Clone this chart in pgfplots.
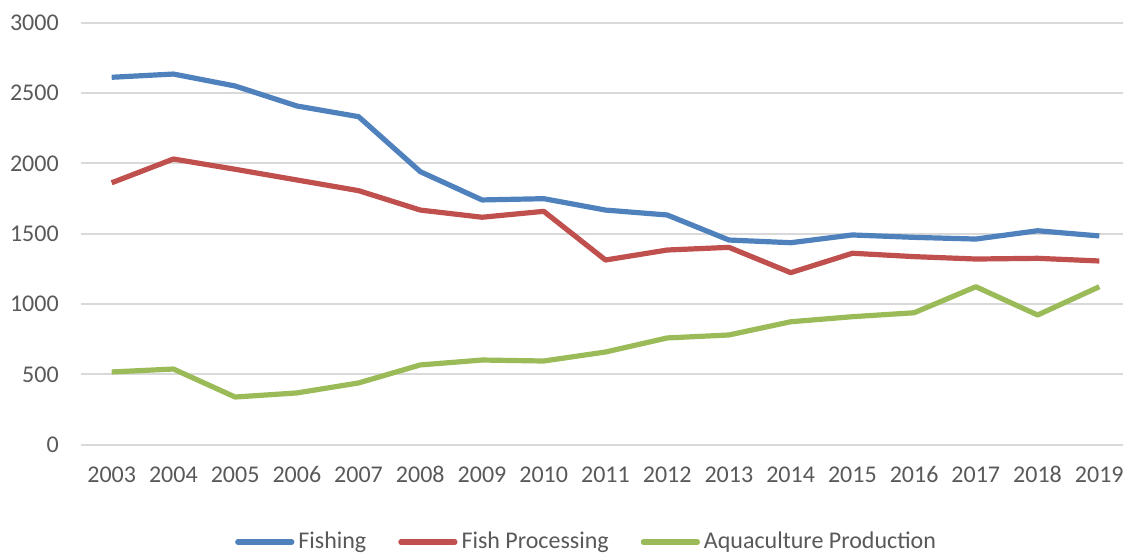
\documentclass[border=0pt]{standalone}
\usepackage{fontspec}
\setmainfont{Carlito}
\usepackage{pgfplots}
\pgfplotsset{compat=1.18}
\definecolor{cblue}{HTML}{4F81BD}
\definecolor{cred}{HTML}{C0504D}
\definecolor{cgreen}{HTML}{9BBB59}
\definecolor{cgrid}{HTML}{D9D9D9}
\definecolor{ctext}{HTML}{595959}
\begin{document}
\begin{tikzpicture}
\useasboundingbox (0,0) rectangle (561.5pt,276pt);
\begin{axis}[
  at={(40.4pt,53.65pt)}, anchor=south west,
  scale only axis, width=524.7pt, height=211pt,
  xmin=2002.5, xmax=2019.5, ymin=0, ymax=3000,
  axis line style={draw=none},
  major tick length=0pt,
  xtick={2003,...,2019},
  ytick={0,500,...,3000},
  ymajorgrids, grid style={cgrid, line width=1pt},
  /pgf/number format/1000 sep={},
  /pgf/number format/assume math mode=true,
  tick label style={font=\fontsize{12}{14}\selectfont, text=ctext},
  yticklabel style={xshift=-7.5pt},
  xticklabel style={yshift=-7.5pt, text height=8pt, text depth=0pt},
  legend columns=3,
  legend style={at={(0.4829,-0.2305)}, anchor=center, draw=none,
    font=\fontsize{12}{14}\selectfont, text=ctext,
    /tikz/every even column/.append style={column sep=14pt}},
  legend image code/.code={\draw[#1, line cap=round] (0pt,0pt) -- (27pt,0pt);},
  every axis plot/.append style={line width=2.6pt, line join=round},
  clip=false,
]
\addplot[cblue, mark=none] coordinates {
(2003,2612) (2004,2635) (2005,2550) (2006,2408) (2007,2332) (2008,1941)
(2009,1740) (2010,1749) (2011,1668) (2012,1633) (2013,1455) (2014,1436)
(2015,1491) (2016,1474) (2017,1462) (2018,1521) (2019,1484)};
\addlegendentry{Fishing}
\addplot[cred, mark=none] coordinates {
(2003,1862) (2004,2031) (2005,1958) (2006,1882) (2007,1806) (2008,1668)
(2009,1617) (2010,1659) (2011,1313) (2012,1384) (2013,1403) (2014,1223)
(2015,1361) (2016,1337) (2017,1320) (2018,1325) (2019,1306)};
\addlegendentry{Fish Processing}
\addplot[cgreen, mark=none] coordinates {
(2003,517) (2004,538) (2005,339) (2006,368) (2007,439) (2008,567)
(2009,602) (2010,595) (2011,659) (2012,759) (2013,780) (2014,874)
(2015,910) (2016,938) (2017,1123) (2018,922) (2019,1123)};
\addlegendentry{Aquaculture Production}
\end{axis}
\end{tikzpicture}
\end{document}
